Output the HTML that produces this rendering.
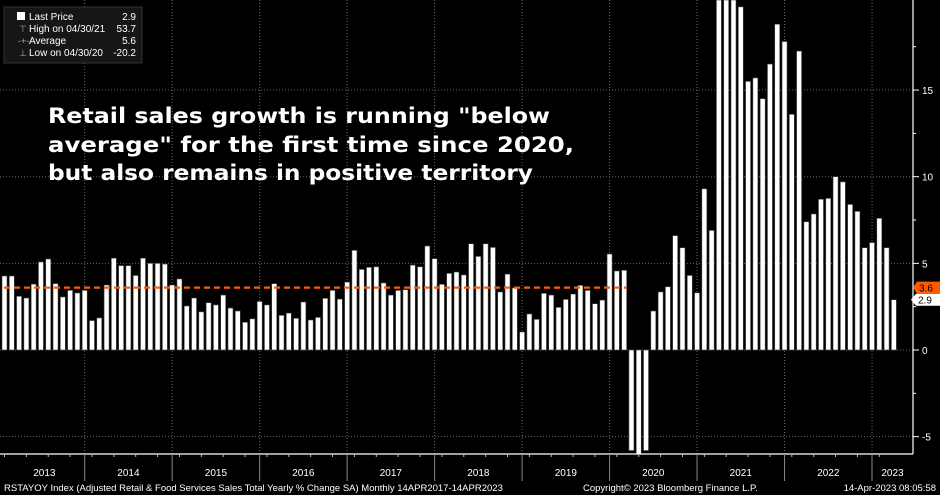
<!DOCTYPE html>
<html><head><meta charset="utf-8"><style>
html,body{margin:0;padding:0;background:#000;}
svg{display:block;font-family:"Liberation Sans",sans-serif;}
</style></head><body>
<svg id="chart" width="940" height="495" viewBox="0 0 940 495" xmlns="http://www.w3.org/2000/svg">
<rect x="0" y="0" width="940" height="495" fill="#000"/>
<g id="grid"></g>
<g id="bars"></g>
<g id="avg"></g>
<g id="axes"></g>
<g>
<rect x="4" y="7" width="138" height="56" fill="#161616" stroke="#333"/>
<rect x="17" y="12" width="8" height="8" fill="#fff"/>
<text x="29" y="20" fill="#fff" font-size="10">Last Price</text>
<text x="136" y="20" fill="#fff" font-size="10" text-anchor="end">2.9</text>
<text x="19" y="32" fill="#aaa" font-size="9">⊤</text>
<text x="29" y="32" fill="#fff" font-size="10">High on 04/30/21</text>
<text x="136" y="32" fill="#fff" font-size="10" text-anchor="end">53.7</text>
<text x="18" y="44" fill="#aaa" font-size="9">-+-</text>
<text x="29" y="44" fill="#fff" font-size="10">Average</text>
<text x="136" y="44" fill="#fff" font-size="10" text-anchor="end">5.6</text>
<text x="19" y="56" fill="#aaa" font-size="9">⊥</text>
<text x="29" y="56" fill="#fff" font-size="10">Low on 04/30/20</text>
<text x="136" y="56" fill="#fff" font-size="10" text-anchor="end">-20.2</text>
</g>
<g font-family="'DejaVu Sans',sans-serif" font-weight="bold" font-size="21" fill="#fff">
<text x="48" y="123" textLength="502" lengthAdjust="spacingAndGlyphs">Retail sales growth is running "below</text>
<text x="48" y="152" textLength="526" lengthAdjust="spacingAndGlyphs">average" for the first time since 2020,</text>
<text x="48" y="180" textLength="485" lengthAdjust="spacingAndGlyphs">but also remains in positive territory</text>
</g>
<text x="4" y="491" fill="#fff" font-size="9.5">RSTAYOY Index (Adjusted Retail &amp; Food Services Sales Total Yearly % Change SA)  Monthly 14APR2017-14APR2023</text>
<text x="583" y="491" fill="#fff" font-size="9.5">Copyright© 2023 Bloomberg Finance L.P.</text>
<text x="936" y="491" fill="#fff" font-size="9.5" text-anchor="end">14-Apr-2023 08:05:58</text>
</svg>
<script>
const values = [
4.27,4.27,3.1,3.0,3.8,5.08,5.25,3.83,3.06,3.44,3.29,3.44,
1.7,1.85,3.75,5.3,4.87,4.87,4.3,5.3,5.0,5.0,4.96,3.75,
4.1,2.54,3.0,2.2,2.73,2.6,3.17,2.42,2.25,1.6,1.8,2.8,
2.6,3.83,2.0,2.13,1.83,2.77,1.73,1.88,2.98,3.44,2.94,3.92,
5.75,4.65,4.77,4.8,3.87,3.17,3.44,3.48,4.9,4.8,6.0,5.27,
3.79,4.42,4.5,4.33,6.13,5.4,6.13,5.92,3.35,4.38,3.58,1.04,
2.08,1.77,3.27,3.17,2.46,2.92,3.23,3.73,3.44,2.67,2.88,5.54,
4.56,4.6,-5.8,-20.2,-5.8,2.25,3.35,3.65,6.6,5.9,4.3,3.3,
9.3,6.9,28.0,53.7,28.0,19.8,15.5,15.7,14.5,16.5,18.8,17.8,
13.6,17.25,7.4,7.85,8.7,8.75,10.0,9.7,8.4,8.0,5.9,6.2,
7.6,5.9,2.9
];
const years = ["2013","2014","2015","2016","2017","2018","2019","2020","2021","2022","2023"];
const yTicks = [-5,0,5,10,15];
const averageValue = [3.6];
const averageEndIndex = [85];
const lastValue = [2.9];

const NS="http://www.w3.org/2000/svg";
const plotTop=0, plotBottom=454, axisX=913;
function yOf(v){ return 350 - v*17.33; }
function xOf(i){ return 4.5 + i*7.29; }
function clampY(y){ return Math.max(plotTop, Math.min(plotBottom, y)); }
function mk(tag, parent, attrs){ const e=document.createElementNS(NS,tag); for(const k in attrs) e.setAttribute(k,attrs[k]); parent.appendChild(e); return e; }

const grid=document.getElementById('grid');
yTicks.forEach(t=>{
  const l=mk('line',grid,{x1:0,x2:axisX,y1:yOf(t),y2:yOf(t),stroke:'#666','stroke-width':1,'stroke-dasharray':'1,2'});
  
  
});
years.forEach((y,k)=>{
  if(k===0) return;
  const x=xOf(12*k-1);
  const l=mk('line',grid,{x1:x,x2:x,y1:0,y2:plotBottom,stroke:'#666','stroke-width':1,'stroke-dasharray':'1,2'});
  
  
});

const bars=document.getElementById('bars');
values.forEach((v,i)=>{
  const y0=yOf(0), y1=clampY(yOf(v));
  const r=mk('rect',bars,{x:xOf(i)-2.5,y:Math.min(y0,y1),width:5,height:Math.abs(y1-y0),fill:'#fff',stroke:'#444','stroke-width':0.6});
  
  
});

const avg=document.getElementById('avg');
const al=mk('line',avg,{x1:4,x2:xOf(averageEndIndex[0])+2,y1:yOf(averageValue[0]),y2:yOf(averageValue[0]),stroke:'#ff5a00','stroke-width':2.2,'stroke-dasharray':'6,4'});



const axes=document.getElementById('axes');
const ax=mk('line',axes,{x1:axisX,x2:axisX,y1:0,y2:plotBottom,stroke:'#fff','stroke-width':1.2});


const bx=mk('line',axes,{x1:0,x2:axisX,y1:plotBottom,y2:plotBottom,stroke:'#fff','stroke-width':1.2});


for(let t=-5;t<=17.5;t+=2.5){
  const major = yTicks.includes(t);
  const tk=mk('line',axes,{x1:axisX,x2:axisX+(major?6:3),y1:yOf(t),y2:yOf(t),stroke:'#fff','stroke-width':1});
  
  
}
yTicks.forEach(t=>{
  const tx=mk('text',axes,{x:axisX+9,y:yOf(t)+4,fill:'#fff','font-size':10});
  tx.textContent=String(t);
  
  
});
// month ticks on bottom axis
values.forEach((v,i)=>{
  if(i%3!==0) return;
  const tk=mk('line',axes,{x1:xOf(i),x2:xOf(i),y1:plotBottom,y2:plotBottom+3,stroke:'#bbb','stroke-width':1});
  
  
});
years.forEach((y,k)=>{
  if(k>0){
    const sx=xOf(12*k-1);
    const s=mk('line',axes,{x1:sx,x2:sx,y1:plotBottom,y2:481,stroke:'#888','stroke-width':1});
    
    
  }
  const start=xOf(Math.max(12*k-1,0)), end=Math.min(xOf(12*k+11), axisX);
  const tx=mk('text',axes,{x:(k===0?(4+end)/2:(start+end)/2),y:476,fill:'#fff','font-size':10,'text-anchor':'middle'});
  tx.textContent=y;
  
  
});
// value badges
const ay=yOf(averageValue[0]);
const ab=mk('polygon',axes,{points:`${axisX},${ay} ${axisX+4},${ay-6} ${940},${ay-6} ${940},${ay+6} ${axisX+4},${ay+6}`,fill:'#ff5a00'});


const at=mk('text',axes,{x:axisX+6,y:ay+4,fill:'#000','font-size':10});
at.textContent=averageValue[0].toFixed(1);


const ly=yOf(lastValue[0]);
const lb=mk('polygon',axes,{points:`${axisX-2},${ly} ${axisX+3},${ly-6} ${940},${ly-6} ${940},${ly+6} ${axisX+3},${ly+6}`,fill:'#fff'});


const lt=mk('text',axes,{x:axisX+5,y:ly+4,fill:'#000','font-size':10});
lt.textContent=lastValue[0].toFixed(1);


</script>
</body></html>
